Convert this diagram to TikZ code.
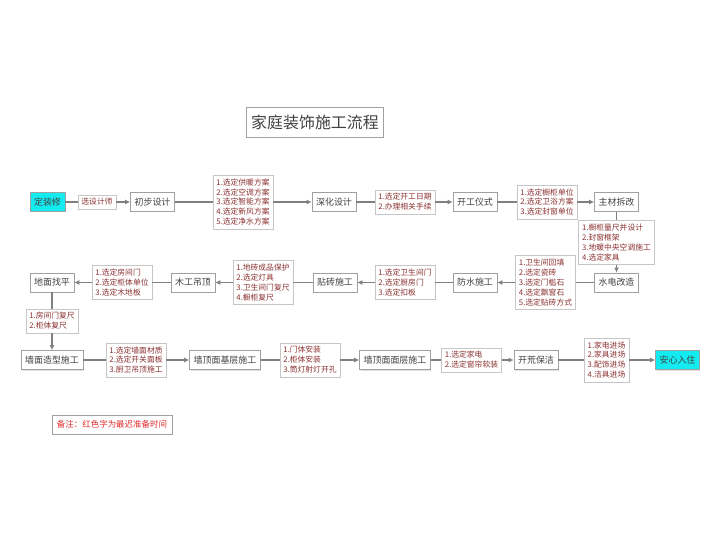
\documentclass[tikz,border=0pt]{standalone}
\usepackage{fontspec}
\setmainfont{Noto Sans CJK SC}
\usepackage{xcolor}
\usepackage{tikz}
\usetikzlibrary{positioning, shapes}
\usetikzlibrary{arrows.meta}
\usetikzlibrary{shadows}
\definecolor{boxline}{RGB}{160,160,160}
\definecolor{boxtext}{RGB}{64,64,64}
\definecolor{notetext}{RGB}{140,50,50}
\definecolor{wire}{RGB}{128,128,128}
\definecolor{startfill}{RGB}{20,235,240}
\definecolor{remark}{RGB}{225,45,45}

\begin{document}
\begin{tikzpicture}[x=1bp,y=-1bp]
            \tikzset{task/.style = {draw=boxline, fill=white, text=boxtext, line width=0.8pt, inner sep=4bp, minimum height=19bp, font=\fontsize{9}{11}\selectfont, drop shadow={shadow xshift=1bp, shadow yshift=-1bp, opacity=0.25}}}
            \tikzset{ends/.style = {task, fill=startfill}}
            \tikzset{note/.style = {draw=boxline!60, fill=white, text=notetext, line width=0.5pt, inner sep=3.5bp, align=left, font=\fontsize{7.8}{10}\selectfont}}
            \tikzset{link/.style = {draw=wire, line width=1.1pt}}
            \tikzset{edge/.style = {link, -{Latex[length=5bp, width=5bp]}}}

            \useasboundingbox (0,0) rectangle (720,541);

            % title
            \node[draw=boxline, line width=0.8pt, text=boxtext, inner sep=5bp, minimum height=30bp, font=\fontsize{16}{18}\selectfont] (title) at (315,122) {家庭装饰施工流程};

            % first row
            \node[ends] (start) at (47.5,202) {定装修};
            \node[note] (l1) at (97,202) {选设计师};
            \node[task] (design1) at (152.5,202) {初步设计};
            \node[note] (l2) at (243,202) {1.选定供暖方案\\2.选定空调方案\\3.选定智能方案\\4.选定新风方案\\5.选定净水方案};
            \node[task] (design2) at (334,202) {深化设计};
            \node[note] (l3) at (405,202) {1.选定开工日期\\2.办理相关手续};
            \node[task] (kickoff) at (475,202) {开工仪式};
            \node[note] (l4) at (547,202) {1.选定橱柜单位\\2.选定卫浴方案\\3.选定封窗单位};
            \node[task] (demol) at (616.5,202) {主材拆改};
            \node[note] (l5) at (616.5,242.5) {1.橱柜量尺并设计\\2.封窗框架\\3.地暖中央空调施工\\4.选定家具};

            % second row
            \node[task] (plumb) at (616.5,282.5) {水电改造};
            \node[note] (l6) at (545.5,282.5) {1.卫生间回填\\2.选定瓷砖\\3.选定门槛石\\4.选定飘窗石\\5.选定贴砖方式};
            \node[task] (waterp) at (475,282.5) {防水施工};
            \node[note] (l7) at (405,282.5) {1.选定卫生间门\\2.选定厨房门\\3.选定扣板};
            \node[task] (tile) at (335,282.5) {贴砖施工};
            \node[note] (l8) at (263,282.5) {1.地砖成品保护\\2.选定灯具\\3.卫生间门复尺\\4.橱柜复尺};
            \node[task] (wood) at (193,282.5) {木工吊顶};
            \node[note] (l9) at (122,282.5) {1.选定房间门\\2.选定柜体单位\\3.选定木地板};
            \node[task] (floor) at (52,282.5) {地面找平};
            \node[note] (l10) at (52,321) {1.房间门复尺\\2.柜体复尺};

            % third row
            \node[task] (wall) at (52,360) {墙面造型施工};
            \node[note] (l11) at (136,360) {1.选定墙面材质\\2.选定开关面板\\3.厨卫吊顶施工};
            \node[task] (base) at (225,360) {墙顶面基层施工};
            \node[note] (l12) at (310,360) {1.门体安装\\2.柜体安装\\3.筒灯射灯开孔};
            \node[task] (surface) at (395,360) {墙顶面面层施工};
            \node[note] (l13) at (471.5,360) {1.选定家电\\2.选定窗帘软装};
            \node[task] (clean) at (536,360) {开荒保洁};
            \node[note] (l14) at (606.5,360) {1.家电进场\\2.家具进场\\3.配饰进场\\4.洁具进场};
            \node[ends] (finish) at (677.5,360) {安心入住};

            % remark
            \node[draw=boxline, line width=0.8pt, text=remark, inner sep=5bp, minimum height=19bp, font=\fontsize{8.5}{10}\selectfont] (remark) at (112,424.5) {备注：红色字为最迟准备时间};

            % connectors
            \draw[link] (start) -- (l1);
            \draw[edge] (l1) -- (design1);
            \draw[link] (design1) -- (l2);
            \draw[edge] (l2) -- (design2);
            \draw[link] (design2) -- (l3);
            \draw[edge] (l3) -- (kickoff);
            \draw[link] (kickoff) -- (l4);
            \draw[edge] (l4) -- (demol);
            \draw[link] (demol) -- (l5);
            \draw[edge] (l5) -- (plumb);
            \draw[link] (plumb) -- (l6);
            \draw[edge] (l6) -- (waterp);
            \draw[link] (waterp) -- (l7);
            \draw[edge] (l7) -- (tile);
            \draw[link] (tile) -- (l8);
            \draw[edge] (l8) -- (wood);
            \draw[link] (wood) -- (l9);
            \draw[edge] (l9) -- (floor);
            \draw[link] (floor) -- (l10);
            \draw[edge] (l10) -- (wall);
            \draw[link] (wall) -- (l11);
            \draw[edge] (l11) -- (base);
            \draw[link] (base) -- (l12);
            \draw[edge] (l12) -- (surface);
            \draw[link] (surface) -- (l13);
            \draw[edge] (l13) -- (clean);
            \draw[link] (clean) -- (l14);
            \draw[edge] (l14) -- (finish);

        \end{tikzpicture}
\end{document}
